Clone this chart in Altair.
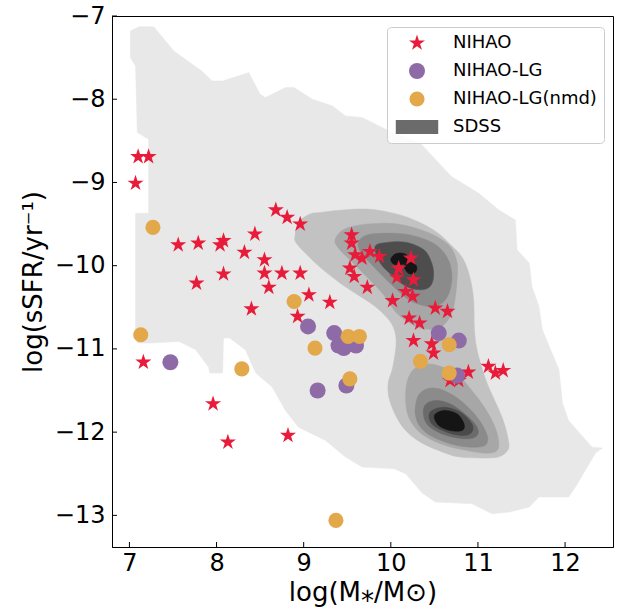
import altair as alt
import pandas as pd

# ---------------- data ----------------
nihao_x = [7.10, 7.22, 7.07, 8.68, 8.81, 8.96, 8.44, 7.56, 7.79, 8.04, 8.08, 8.32, 8.55, 8.55,
           8.75, 8.96, 8.08, 7.77, 8.60, 9.06, 9.30, 8.40, 8.93, 7.16, 7.96, 8.13, 8.82, 9.55,
           9.55, 9.59, 9.76, 9.87, 9.67, 9.53, 9.58, 9.73, 10.23, 10.09, 10.07, 10.26, 10.17,
           10.25, 10.02, 10.51, 10.65, 10.21, 10.33, 10.26, 10.47, 10.49, 10.89, 10.68, 10.78,
           11.12, 11.20, 11.29]
nihao_y = [-8.69, -8.69, -9.01, -9.33, -9.42, -9.50, -9.62, -9.75, -9.73, -9.75, -9.70, -9.84,
           -9.93, -10.09, -10.09, -10.09, -10.10, -10.21, -10.26, -10.35, -10.44, -10.52, -10.61,
           -11.16, -11.66, -12.12, -12.04, -9.63, -9.73, -9.87, -9.83, -9.89, -9.91, -10.03,
           -10.13, -10.26, -9.91, -10.03, -10.14, -10.17, -10.31, -10.37, -10.42, -10.51, -10.55,
           -10.63, -10.69, -10.90, -10.94, -11.05, -11.28, -11.38, -11.38, -11.21, -11.29, -11.26]

lg_x = [9.05, 7.47, 9.16, 9.35, 9.40, 9.46, 9.60, 10.55, 10.78, 10.76, 9.49]
lg_y = [-10.73, -11.16, -11.50, -10.81, -10.96, -10.99, -10.96, -10.81, -10.90, -11.32, -11.44]

nmd_x = [7.27, 8.89, 7.13, 9.13, 9.51, 9.64, 8.29, 10.67, 10.34, 10.67, 9.53, 9.37]
nmd_y = [-9.54, -10.43, -10.83, -10.99, -10.85, -10.85, -11.24, -10.95, -11.15, -11.29, -11.36, -13.06]

# SDSS coverage outline
sdss_x = [7.01, 7.11, 7.28, 7.51, 7.83, 7.95, 8.07, 8.37, 8.50, 8.56, 8.79, 8.89, 9.10, 9.33,
          9.48, 9.67, 9.96, 10.34, 10.59, 10.70, 11.01, 11.24, 11.43, 11.45, 11.59, 11.62, 11.70,
          11.74, 11.85, 11.93, 11.97, 12.04, 12.31, 12.43,
          12.35, 12.12, 12.04, 11.70, 11.59, 11.36, 11.16, 10.93, 10.51, 10.36, 10.17, 10.04,
          9.67, 9.48, 9.25, 8.94, 8.79, 8.64, 8.45, 8.33, 8.15, 8.08, 8.07, 7.92, 7.91, 7.76,
          7.57, 7.26, 7.09,
          7.07, 7.07, 7.22, 7.22, 7.09, 7.07, 7.01]
sdss_y = [-7.18, -7.13, -7.13, -7.42, -7.66, -7.78, -7.78, -7.68, -7.94, -7.98, -7.86, -7.86,
          -8.00, -8.08, -8.20, -8.22, -8.37, -8.53, -8.81, -8.93, -9.13, -9.33, -9.45, -9.81,
          -9.97, -10.25, -10.49, -10.77, -11.05, -11.25, -11.65, -11.86, -12.18, -12.19,
          -12.25, -12.66, -12.78, -12.78, -12.90, -12.96, -12.98, -12.86, -12.84, -12.73, -12.50,
          -12.44, -12.42, -12.30, -12.10, -11.94, -11.74, -11.46, -11.29, -11.01, -10.87, -10.87,
          -11.29, -11.29, -11.22, -11.01, -10.91, -10.93, -10.93,
          -10.85, -9.37, -9.37, -8.48, -8.40, -7.60, -7.50]

# SDSS density contours (level, x, y)
c1_x = [8.90, 8.94, 9.07, 9.19, 9.45, 9.73, 9.99, 10.22, 10.49, 10.68, 10.83, 10.91, 10.95, 10.96,
        10.99, 11.06, 11.14, 11.28, 11.35, 11.34, 11.23, 11.03, 10.80, 10.62, 10.34, 10.17, 10.06,
        9.98, 9.97, 10.02, 10.06, 10.04, 9.96, 9.82, 9.65, 9.42, 9.19, 9.02, 8.91]
c1_y = [-9.64, -9.48, -9.38, -9.36, -9.33, -9.32, -9.36, -9.43, -9.57, -9.74, -9.92, -10.15, -10.41,
        -10.77, -11.01, -11.28, -11.50, -11.83, -12.10, -12.22, -12.30, -12.31, -12.30, -12.25,
        -12.12, -11.98, -11.81, -11.59, -11.41, -11.23, -10.95, -10.77, -10.63, -10.49, -10.37,
        -10.21, -10.02, -9.85, -9.72]
c2u_x = [9.36, 9.45, 9.65, 9.96, 10.22, 10.49, 10.68, 10.76, 10.76, 10.74, 10.70, 10.61, 10.51,
         10.34, 10.19, 10.05, 9.91, 9.73, 9.54, 9.40]
c2u_y = [-9.69, -9.57, -9.51, -9.49, -9.53, -9.63, -9.77, -9.96, -10.17, -10.38, -10.57, -10.71,
         -10.76, -10.75, -10.67, -10.55, -10.34, -10.14, -9.94, -9.79]
c3u_x = [9.63, 9.73, 9.96, 10.22, 10.49, 10.64, 10.70, 10.68, 10.61, 10.49, 10.34, 10.18, 9.99,
         9.80, 9.65]
c3u_y = [-9.71, -9.63, -9.61, -9.63, -9.73, -9.89, -10.09, -10.29, -10.43, -10.49, -10.47, -10.39,
         -10.21, -10.01, -9.83]
c5u_x = [9.82, 9.96, 10.18, 10.38, 10.47, 10.49, 10.45, 10.34, 10.18, 10.03, 9.88]
c5u_y = [-9.77, -9.72, -9.72, -9.81, -9.97, -10.13, -10.25, -10.29, -10.25, -10.13, -9.97]
c6a_x = [10.00, 10.05, 10.13, 10.19, 10.18, 10.11, 10.03]
c6a_y = [-9.92, -9.86, -9.85, -9.88, -9.96, -9.99, -9.98]
c6b_x = [10.15, 10.20, 10.27, 10.30, 10.27, 10.20]
c6b_y = [-10.00, -9.96, -9.97, -10.03, -10.09, -10.09]
c2l_x = [10.43, 10.60, 10.77, 10.93, 11.08, 11.20, 11.24, 11.19, 11.05, 10.82, 10.57, 10.34,
         10.21, 10.17, 10.19, 10.28]
c2l_y = [-11.18, -11.22, -11.31, -11.50, -11.71, -11.95, -12.16, -12.24, -12.25, -12.21, -12.14,
         -12.01, -11.83, -11.62, -11.38, -11.23]
c3l_x = [10.30, 10.28, 10.34, 10.49, 10.76, 10.99, 11.10, 11.10, 10.99, 10.80, 10.61, 10.47, 10.36]
c3l_y = [-11.60, -11.78, -11.94, -12.06, -12.16, -12.18, -12.14, -12.02, -11.82, -11.62, -11.50,
         -11.47, -11.51]
c4l_x = [10.39, 10.38, 10.45, 10.64, 10.87, 10.99, 10.99, 10.87, 10.68, 10.51]
c4l_y = [-11.68, -11.82, -11.94, -12.04, -12.08, -12.04, -11.94, -11.80, -11.66, -11.62]
c5l_x = [10.45, 10.47, 10.64, 10.83, 10.93, 10.93, 10.80, 10.61]
c5l_y = [-11.76, -11.90, -12.00, -12.04, -12.00, -11.90, -11.76, -11.70]
c6l_x = [10.50, 10.55, 10.68, 10.82, 10.84, 10.76, 10.61]
c6l_y = [-11.80, -11.92, -11.98, -11.98, -11.90, -11.78, -11.74]

x_ticks = [7, 8, 9, 10, 11, 12]
y_ticks = [-7, -8, -9, -10, -11, -12, -13]

series = ["NIHAO", "NIHAO-LG", "NIHAO-LG(nmd)", "SDSS"]
series_colors = ["#e81c3a", "#8e6ba6", "#e2a84a", "#6b6b6b"]

# ---------------- chart ----------------
W, H = 501, 531
xs = alt.Scale(domain=[6.8, 12.55], nice=False, zero=False)
ys = alt.Scale(domain=[-13.38, -7.0], nice=False, zero=False)

STAR = ("M0,-1L0.2245,-0.309L0.951,-0.309L0.363,0.118L0.588,0.809L0,0.382"
        "L-0.588,0.809L-0.363,0.118L-0.951,-0.309L-0.2245,-0.309Z")
RECT = "M-3,-1L3,-1L3,1L-3,1Z"


def poly(px, py, color, interp):
    df = pd.DataFrame({"x": px, "y": py, "i": list(range(len(px)))})
    return alt.Chart(df).mark_line(
        interpolate=interp, fill=color, stroke=color, strokeWidth=0.5, fillOpacity=1
    ).encode(
        x=alt.X("x:Q", scale=xs),
        y=alt.Y("y:Q", scale=ys),
        order="i:Q",
    )


layers = [poly(sdss_x, sdss_y, "#e8e8e8", "linear-closed")]
for px, py, col in [
    (c1_x, c1_y, "#c2c2c2"),
    (c2u_x, c2u_y, "#a7a7a7"), (c3u_x, c3u_y, "#8b8b8b"), (c5u_x, c5u_y, "#4d4d4d"),
    (c6a_x, c6a_y, "#151515"), (c6b_x, c6b_y, "#151515"),
    (c2l_x, c2l_y, "#a7a7a7"), (c3l_x, c3l_y, "#8b8b8b"), (c4l_x, c4l_y, "#6b6b6b"),
    (c5l_x, c5l_y, "#4b4b4b"), (c6l_x, c6l_y, "#151515"),
]:
    layers.append(poly(px, py, col, "cardinal-closed"))

xt = pd.DataFrame({"v": x_ticks})
yt = pd.DataFrame({"v": y_ticks})
layers.append(alt.Chart(xt).mark_rule(color="black", strokeWidth=1).encode(
    x=alt.X("v:Q", scale=xs), y=alt.value(H), y2=alt.value(H - 5)))
layers.append(alt.Chart(yt).mark_rule(color="black", strokeWidth=1).encode(
    y=alt.Y("v:Q", scale=ys), x=alt.value(0), x2=alt.value(5)))

pts = pd.DataFrame({
    "x": nihao_x + lg_x + nmd_x,
    "y": nihao_y + lg_y + nmd_y,
    "s": ["NIHAO"] * len(nihao_x) + ["NIHAO-LG"] * len(lg_x) + ["NIHAO-LG(nmd)"] * len(nmd_x),
})
points = alt.Chart(pts).mark_point(filled=True, opacity=1, strokeWidth=0).encode(
    x=alt.X("x:Q", scale=xs,
            axis=alt.Axis(title="log(M⁎/M⊙)", values=x_ticks, ticks=False, grid=False,
                          labelPadding=4, titlePadding=4, format="d")),
    y=alt.Y("y:Q", scale=ys,
            axis=alt.Axis(title="log(sSFR/yr⁻¹)", values=y_ticks, ticks=False, grid=False,
                          labelPadding=7, titlePadding=8, format="d")),
    color=alt.Color("s:N", scale=alt.Scale(domain=series, range=series_colors),
                    legend=alt.Legend(title=None)),
    shape=alt.Shape("s:N", scale=alt.Scale(domain=series, range=[STAR, "circle", "circle", RECT]),
                    legend=alt.Legend(title=None)),
    size=alt.Size("s:N", scale=alt.Scale(domain=series, range=[285, 200, 200, 200]), legend=None),
)
layers.append(points)

chart = alt.layer(*layers).properties(
    width=W, height=H,
    autosize=alt.AutoSizeParams(type="none"),
    padding={"left": 112, "top": 16, "right": 5, "bottom": 61},
).configure_view(
    stroke="black", strokeWidth=1
).configure_axis(
    labelFont="DejaVu Sans", titleFont="DejaVu Sans", labelFontSize=24, titleFontSize=26,
    labelColor="black", titleColor="black", titleFontWeight="normal",
    domainColor="black", domainWidth=1,
).configure_legend(
    orient="none", legendX=275, legendY=11, padding=7, rowPadding=10,
    labelFont="DejaVu Sans", labelFontSize=18, labelColor="black", labelLimit=300,
    symbolSize=180, symbolOffset=14, labelOffset=27, symbolStrokeWidth=0,
    strokeColor="#cccccc", fillColor="rgba(255,255,255,0.8)", cornerRadius=4,
)

chart.save("out.html", embed_options={"renderer": "svg", "actions": False})
